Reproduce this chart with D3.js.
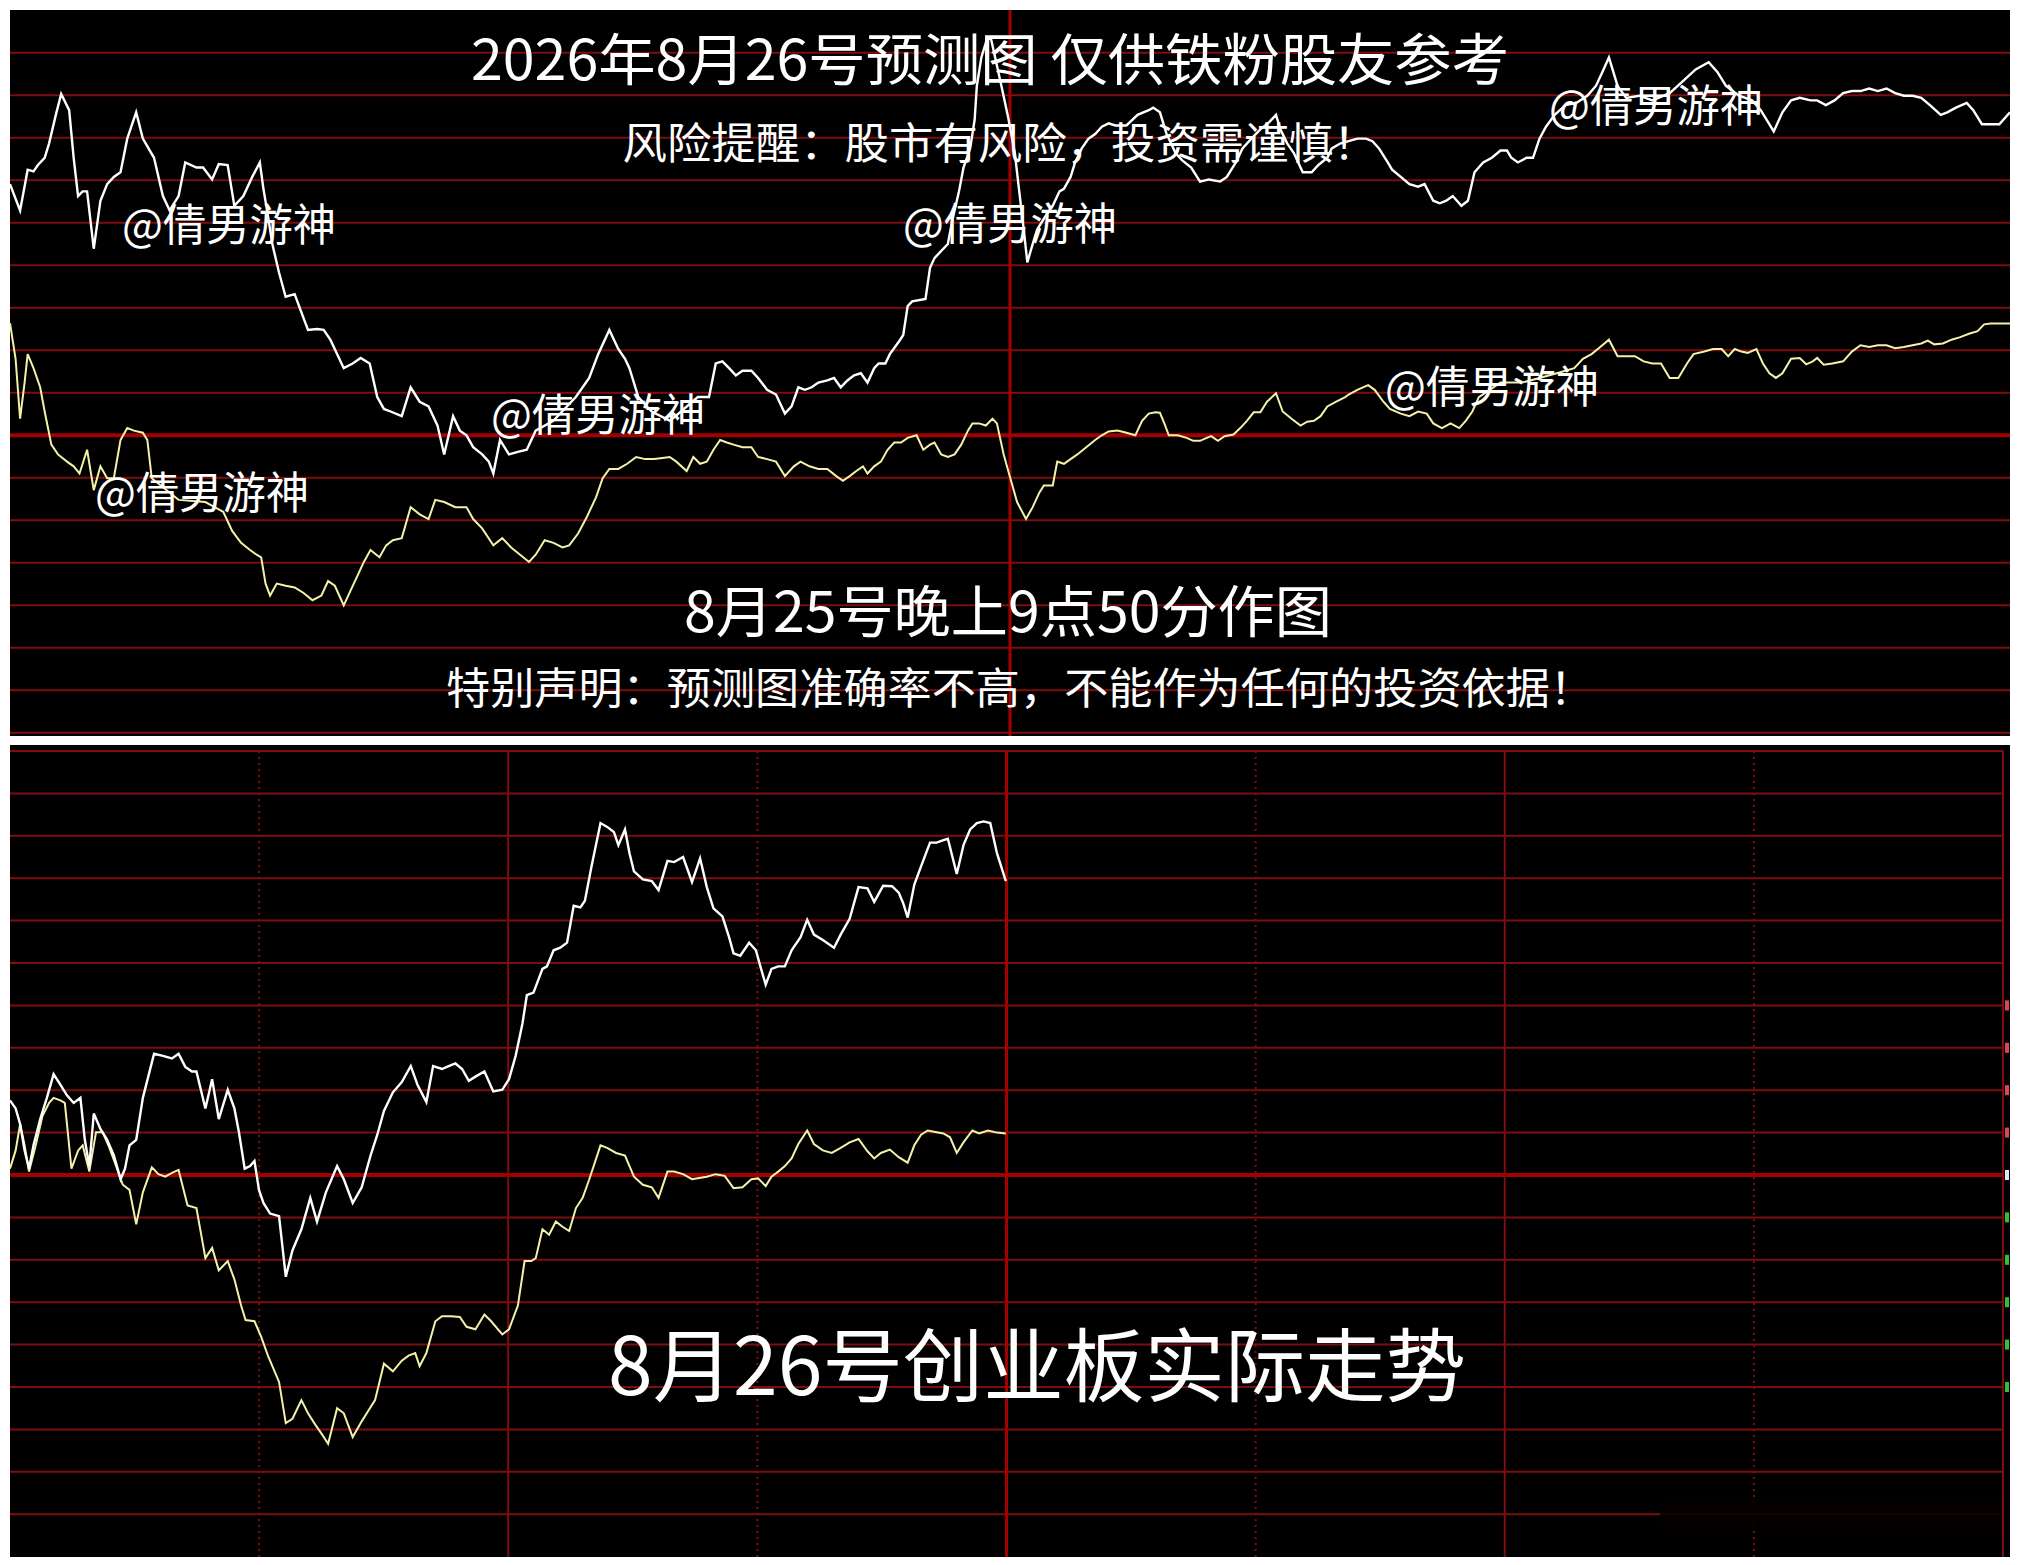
<!DOCTYPE html>
<html>
<head>
<meta charset="utf-8">
<script src="https://cdn.jsdelivr.net/npm/d3@7"></script>
<style>
html,body{margin:0;padding:0;background:#fff;}
svg{display:block;}
text{font-family:"Noto Sans CJK SC","Noto Sans",sans-serif;fill:#fff;}
</style>
</head>
<body>
<svg id="chart" width="2020" height="1565"></svg>
<script>
// ---------- DATA (minute of trading day 0..240, value in grid steps from prev close) ----------
const topIndex = [[0,5.91],[1.21,5.29],[2.12,6.25],[2.82,6.21],[3.35,6.36],[4.16,6.53],[4.69,6.87],[5.5,7.54],[6.14,8.03],[7.1,7.65],[7.64,6.53],[8.17,5.63],[8.71,5.74],[9.25,5.74],[10.05,4.39],[10.85,5.52],[11.66,5.91],[12.46,6.08],[13.26,6.19],[14.07,6.98],[15.14,7.6],[15.94,6.98],[17.28,6.53],[18.35,5.63],[19.16,5.29],[20.23,5.63],[21.03,6.42],[22.37,6.3],[23.17,6.3],[24.25,6.02],[25.05,6.38],[26.12,6.36],[26.92,5.4],[28,5.63],[29.07,6.08],[29.98,6.42],[30.41,5.8],[30.94,5.18],[31.48,4.5],[32.28,3.83],[33.08,3.26],[34.16,3.32],[34.69,3.04],[35.76,2.48],[36.83,2.5],[37.64,2.48],[38.44,2.25],[40.05,1.58],[41.12,1.69],[42.08,1.82],[43.16,1.69],[44.07,0.9],[44.87,0.62],[45.67,0.56],[47.01,0.45],[48.08,1.13],[49.16,0.79],[50.23,0.68],[51.3,0.23],[52.1,-0.45],[53.17,0.45],[53.98,0.11],[54.78,0],[55.58,-0.28],[56.66,-0.45],[57.46,-0.62],[58,-0.9],[58.8,-0.11],[59.87,-0.45],[60.94,-0.39],[62.01,-0.34],[63.08,0.11],[65.2,0.34],[67.9,0.9],[69.5,1.35],[70.58,1.91],[71.92,2.48],[72.99,2.03],[73.8,1.8],[74.33,1.58],[75.4,0.9],[77,0.56],[79.2,0.34],[82.54,0.9],[83.88,0.9],[84.69,1.69],[85.49,1.74],[86.29,1.58],[87.1,1.41],[87.9,1.52],[88.97,1.52],[89.77,1.35],[90.85,1.07],[91.92,0.96],[92.99,0.51],[93.79,0.68],[94.6,1.13],[95.4,1.07],[96.2,1.13],[97,1.24],[98.08,1.29],[98.88,1.35],[99.69,1.13],[100.49,1.29],[101.29,1.41],[102.1,1.46],[102.9,1.24],[103.7,1.58],[104.24,1.69],[105.04,1.69],[105.58,1.91],[106.65,2.2],[107.19,2.36],[107.72,3.04],[108.26,3.15],[109.86,3.21],[110.4,3.94],[110.94,4.17],[111.47,4.28],[112.54,4.5],[113.08,5.06],[113.88,5.74],[114.42,6.3],[115.22,6.75],[115.76,7.43],[116.02,8.22],[116.56,8.89],[117.2,9.3],[117.7,9.35],[118.97,8.22],[119.77,7.49],[120.58,6.64],[121.11,5.74],[121.65,4.84],[122.08,4.07],[122.72,4.5],[123.26,4.84],[124.33,5.18],[125.13,5.4],[125.94,5.74],[126.47,5.8],[127.27,6.08],[127.81,6.42],[128.61,6.75],[129.42,6.98],[130.22,7.09],[131.02,7.26],[131.83,7.34],[132.63,7.29],[133.97,7.29],[135.31,7.54],[136.65,7.65],[137.18,7.71],[137.99,7.6],[138.79,7.09],[139.33,6.87],[139.86,6.64],[140.67,6.47],[141.74,6.3],[142.81,5.97],[143.88,6.02],[145.22,5.97],[146.02,6.08],[147.1,6.42],[147.9,6.75],[148.97,6.98],[150.04,7.2],[151.11,7.37],[151.92,7.54],[152.45,7.2],[153.26,6.87],[154.06,6.64],[155.13,6.19],[156.2,6.19],[157.01,6.36],[158.08,6.53],[158.61,6.75],[159.68,6.87],[161.68,6.98],[162.72,6.98],[163.5,6.92],[164.28,6.75],[165.33,6.42],[165.85,6.25],[166.89,6.08],[167.93,5.91],[168.97,5.85],[169.75,5.91],[170.79,5.52],[171.57,5.46],[172.35,5.52],[173.13,5.63],[174.17,5.4],[174.95,5.52],[175.74,6.19],[176.78,6.42],[177.82,6.53],[178.86,6.7],[179.64,6.7],[180.16,6.53],[180.94,6.42],[181.98,6.53],[182.76,6.53],[183.54,6.98],[184.32,7.26],[185.36,7.54],[186.67,7.77],[187.97,7.82],[189.27,7.99],[190.31,8.22],[191.09,8.55],[191.87,8.89],[192.91,8.22],[193.95,7.94],[195.51,7.99],[197.08,7.88],[199.16,8.05],[200.72,8.33],[202.28,8.61],[203.84,8.78],[204.88,8.55],[205.92,8.22],[207.49,7.99],[209.05,7.88],[210.09,7.65],[211.65,7.15],[212.69,7.6],[213.73,7.88],[214.77,7.94],[216.07,7.88],[216.86,7.88],[217.9,7.77],[218.94,7.88],[219.98,8.05],[221.02,8.1],[222.06,8.1],[223.1,8.16],[224.14,8.1],[225.18,8.16],[226.22,8.05],[227.26,7.99],[228.3,7.99],[229.35,7.94],[230.39,7.77],[231.69,7.54],[232.47,7.6],[233.51,7.71],[234.81,7.82],[235.59,7.65],[236.63,7.32],[237.67,7.32],[238.72,7.32],[240,7.6]];

const topAverage = [[0,2.64],[0.67,1.8],[1.21,0.39],[1.75,1.24],[2.12,1.91],[2.82,1.58],[3.62,1.13],[4.16,0.56],[4.96,-0.22],[5.76,-0.45],[6.84,-0.62],[7.64,-0.73],[8.34,-0.9],[9.25,-0.34],[10.05,-1.29],[10.85,-0.73],[11.66,-1.01],[12.46,-1.01],[13.26,-0.11],[14.07,0.17],[14.87,0.11],[15.94,0.06],[16.48,-0.11],[17.01,-1.01],[20.23,-1.52],[23.44,-1.57],[25.59,-1.8],[26.66,-2.25],[27.73,-2.53],[28.8,-2.7],[29.6,-2.81],[30.14,-2.87],[30.67,-3.49],[31.21,-3.77],[32.01,-3.49],[33.08,-3.54],[34.16,-3.58],[35.23,-3.71],[36.3,-3.88],[37.37,-3.77],[38.17,-3.43],[38.98,-3.54],[39.51,-3.77],[40.05,-4.0],[40.85,-3.66],[41.66,-3.32],[42.46,-2.98],[43.26,-2.7],[44.33,-2.87],[45.14,-2.59],[45.94,-2.47],[47.01,-2.42],[48.08,-1.69],[49.16,-1.86],[50.23,-1.97],[51.03,-1.52],[52.1,-1.57],[53.44,-1.69],[54.78,-1.69],[55.58,-1.97],[56.66,-2.19],[58,-2.59],[59.07,-2.42],[60.14,-2.64],[61.21,-2.81],[62.28,-2.98],[63.08,-2.81],[64.16,-2.47],[65.23,-2.53],[66.3,-2.64],[67.1,-2.59],[68.17,-2.31],[69.25,-1.91],[70.32,-1.46],[71.12,-1.01],[71.92,-0.79],[72.99,-0.79],[74.06,-0.67],[75.14,-0.51],[76.21,-0.56],[77.28,-0.56],[78.08,-0.54],[79.16,-0.51],[79.96,-0.62],[81.2,-0.84],[82,-0.51],[82.81,-0.67],[83.61,-0.62],[84.42,-0.34],[85.22,-0.11],[86.02,-0.17],[86.83,-0.22],[87.9,-0.28],[88.97,-0.28],[89.77,-0.51],[90.85,-0.56],[91.92,-0.62],[92.99,-0.96],[94.06,-0.73],[94.86,-0.62],[95.94,-0.73],[97.01,-0.79],[98.08,-0.79],[99.15,-0.96],[99.95,-1.07],[100.76,-0.96],[101.56,-0.84],[102.36,-0.73],[102.9,-0.9],[103.7,-0.73],[104.51,-0.62],[105.31,-0.34],[106.11,-0.17],[106.92,-0.17],[107.72,-0.06],[108.79,0],[109.6,-0.34],[110.4,-0.22],[110.94,-0.17],[111.74,-0.45],[112.54,-0.51],[113.35,-0.45],[114.15,-0.22],[114.95,0.11],[115.49,0.28],[116.29,0.28],[117.1,0.23],[117.9,0.39],[118.43,0.28],[119.24,-0.45],[120.04,-1.01],[120.85,-1.57],[121.92,-1.97],[122.72,-1.69],[123.52,-1.35],[124.06,-1.18],[125.13,-1.18],[125.67,-0.62],[126.47,-0.67],[127.27,-0.56],[128.08,-0.45],[129.15,-0.28],[130.22,-0.11],[131.02,0],[131.83,0.09],[132.9,0.11],[133.97,0.06],[135.04,0],[135.85,0.34],[136.65,0.51],[137.45,0.54],[137.99,0.53],[138.52,0.28],[139.06,0],[140.13,0],[141.2,-0.06],[142,-0.13],[142.81,-0.13],[143.61,-0.06],[144.14,-0.02],[144.95,-0.13],[145.75,-0.02],[146.82,0.02],[147.63,0.17],[148.43,0.34],[149.24,0.54],[150.04,0.54],[150.84,0.79],[151.92,0.99],[152.72,0.56],[153.79,0.39],[154.86,0.23],[155.67,0.32],[156.47,0.34],[157.27,0.45],[158.08,0.68],[159.15,0.79],[160.22,0.9],[160.64,0.96],[161.68,1.07],[162.98,1.18],[163.76,1.07],[164.81,0.79],[165.59,0.62],[166.89,0.51],[167.93,0.45],[168.97,0.56],[170.01,0.51],[170.79,0.28],[171.83,0.17],[172.87,0.28],[173.91,0.17],[174.69,0.34],[175.48,0.56],[176.26,0.9],[178.86,1.24],[181.46,1.24],[183.54,1.35],[185.62,1.46],[187.71,1.58],[188.75,1.8],[189.79,1.91],[190.83,2.08],[191.87,2.25],[192.91,1.86],[193.95,1.86],[194.99,1.86],[196.04,1.74],[197.08,1.69],[198.12,1.69],[199.16,1.35],[200.2,1.35],[201.24,1.69],[202.02,1.91],[203.32,1.97],[204.36,2.03],[205.4,2.03],[206.18,1.86],[206.97,2.03],[207.75,1.97],[208.53,1.94],[209.57,2.03],[210.35,1.69],[211.13,1.46],[211.91,1.35],[212.69,1.46],[213.73,1.8],[214.77,1.82],[215.55,1.67],[216.33,1.74],[216.86,1.82],[217.64,1.66],[218.68,1.69],[219.98,1.74],[221.02,1.97],[222.06,2.12],[223.1,2.08],[224.14,2.12],[225.18,2.12],[226.22,2.05],[227.26,2.08],[228.3,2.12],[229.35,2.16],[230.13,2.23],[230.91,2.14],[231.95,2.16],[232.99,2.25],[234.03,2.31],[235.07,2.39],[236.11,2.45],[236.89,2.61],[237.67,2.63],[238.72,2.63],[240,2.63]];

const actualIndex = [[0,1.76],[0.68,1.57],[1.22,1.2],[1.76,0.58],[2.29,0.15],[2.83,0.7],[3.64,1.32],[4.44,1.82],[5.25,2.38],[6.06,2.13],[6.86,1.88],[7.67,1.7],[8.48,1.82],[9.01,0.83],[9.55,0.21],[10.09,1.45],[10.9,1.08],[11.7,0.83],[12.51,0.46],[13.32,-0.1],[13.85,0.15],[14.39,0.7],[15.2,0.83],[16,1.82],[17.35,2.86],[18.42,2.81],[19.5,2.75],[20.3,2.86],[21.11,2.55],[21.92,2.44],[22.45,2.44],[23.53,1.57],[24.34,2.26],[25.14,1.32],[26.22,2.01],[27.02,1.57],[27.56,1.02],[28.26,0.15],[28.91,0.21],[29.44,0.33],[29.98,-0.35],[30.52,-0.66],[31.32,-0.91],[32.4,-0.97],[33.21,-2.4],[34.01,-1.78],[35.09,-1.28],[36.16,-0.54],[36.97,-1.1],[38.04,-0.41],[39.39,0.21],[40.2,-0.1],[41.27,-0.66],[42.35,-0.29],[43.42,0.46],[44.23,0.95],[45.03,1.51],[46.11,1.95],[47.18,2.19],[48.26,2.57],[49.07,2.13],[50.14,1.72],[50.95,2.57],[52.02,2.5],[52.83,2.57],[53.64,2.63],[54.44,2.5],[55.25,2.22],[56.05,2.32],[57.13,2.44],[58.2,1.97],[59.28,2.01],[60.09,2.26],[60.89,2.81],[61.7,3.56],[62.24,4.24],[63.04,4.3],[64.12,4.86],[64.66,4.92],[65.46,5.3],[66.27,5.36],[67.08,5.48],[67.88,6.35],[68.69,6.31],[69.23,6.47],[70.03,7.28],[71.11,8.3],[71.91,8.21],[72.72,8.09],[73.26,7.78],[74.06,8.15],[74.6,7.59],[75.14,7.16],[76.21,6.97],[77.29,6.93],[78.1,6.72],[79.17,7.41],[79.98,7.38],[81.05,7.5],[82.13,6.91],[83.1,7.47],[83.91,6.79],[84.71,6.29],[85.79,6.1],[86.59,5.61],[87.13,5.23],[87.94,5.17],[89.01,5.48],[89.82,5.3],[90.36,4.92],[91,4.49],[91.7,4.86],[92.51,4.92],[93.31,4.92],[94.12,5.3],[95.2,5.61],[96,6.02],[96.81,5.67],[97.88,5.54],[99.23,5.36],[100.03,5.67],[101.11,6.04],[102.18,6.79],[103.26,6.76],[104.07,6.44],[105.14,6.82],[106.22,6.81],[107.02,6.66],[107.56,6.41],[108.1,6.07],[108.9,6.85],[109.71,7.28],[110.79,7.84],[111.59,7.84],[112.4,7.9],[112.94,7.93],[114.01,7.1],[114.82,7.78],[115.62,8.15],[116.43,8.3],[117.24,8.34],[118.04,8.3],[118.85,7.59],[119.92,6.93]];

const actualAverage = [[0,0.15],[0.68,0.58],[1.22,1.2],[1.76,0.7],[2.29,0.08],[3.1,0.7],[3.91,1.39],[4.71,1.7],[5.25,1.82],[6.06,1.76],[6.6,1.7],[7.4,0.15],[8.21,0.58],[8.75,0.7],[9.55,0.08],[10.36,1.01],[11.16,1.01],[11.97,0.64],[12.78,0.21],[13.58,-0.23],[14.39,-0.35],[15.2,-1.16],[16,-0.41],[17.08,0.18],[17.88,0.02],[18.69,-0.04],[19.5,0.05],[20.3,0.12],[21.38,-0.72],[22.45,-0.78],[23.53,-1.96],[24.34,-1.72],[25.14,-2.25],[26.22,-2.03],[27.02,-2.46],[27.83,-3.08],[28.37,-3.42],[29.44,-3.45],[30.25,-3.82],[31.06,-4.26],[31.86,-4.63],[32.4,-4.88],[33.21,-5.85],[34.01,-5.75],[35.09,-5.31],[35.89,-5.62],[36.7,-5.87],[37.51,-6.1],[38.31,-6.34],[39.39,-5.5],[40.2,-5.62],[41.27,-6.18],[42.35,-5.81],[43.15,-5.56],[43.96,-5.31],[45.03,-4.45],[46.11,-4.63],[47.18,-4.38],[47.99,-4.26],[48.8,-4.2],[49.33,-4.51],[50.14,-4.2],[51.22,-3.45],[52.02,-3.33],[53.1,-3.33],[54.17,-3.35],[54.98,-3.58],[56.05,-3.64],[57.13,-3.29],[57.94,-3.45],[59.28,-3.76],[60.09,-3.64],[61.16,-3.08],[61.97,-2.03],[62.77,-2.03],[63.31,-1.96],[64.12,-1.28],[64.92,-1.41],[65.73,-1.1],[66.54,-1.22],[67.34,-1.32],[68.15,-0.78],[68.96,-0.54],[69.76,-0.1],[71.11,0.7],[71.91,0.64],[72.99,0.52],[74.06,0.46],[75.14,-0.04],[76.21,-0.23],[77.29,-0.29],[78.1,-0.54],[79.17,0.08],[79.98,0.08],[81.05,0.02],[82.13,-0.1],[83.91,-0.04],[84.98,0.02],[86.06,-0.02],[87.13,-0.31],[88.21,-0.29],[89.28,-0.1],[90.09,-0.08],[91,-0.26],[91.7,-0.04],[92.51,0.08],[93.31,0.21],[94.12,0.39],[94.93,0.73],[96,1.05],[96.81,0.73],[97.88,0.58],[98.96,0.52],[100.03,0.64],[101.11,0.77],[102.18,0.85],[103.26,0.56],[104.07,0.39],[104.87,0.52],[105.95,0.6],[107.02,0.42],[108.1,0.29],[108.9,0.7],[109.71,0.95],[110.52,1.05],[111.59,1.01],[112.4,0.98],[113.2,0.89],[114.01,0.52],[114.82,0.77],[115.89,1.05],[116.7,0.98],[117.77,1.05],[118.85,1.0],[119.92,0.98]];

// grid levels and time marks
const topLevels = d3.range(-7, 10);            // horizontal lines in forecast panel
const bottomLevels = d3.range(-8, 11);         // horizontal lines in actual panel
const solidMinutes = [60, 180];
const dottedMinutes = [30, 90, 150, 210];
const upTicks = [1, 2, 3, 4];
const downTicks = [-1, -2, -3, -4, -5];

// texts
const titleText = "2026年8月26号预测图 仅供铁粉股友参考";
const riskText = "风险提醒：股市有风险，投资需谨慎！";
const madeText = "8月25号晚上9点50分作图";
const noteText = "特别声明：预测图准确率不高，不能作为任何的投资依据！";
const actualText = "8月26号创业板实际走势";
const markText = "@倩男游神";
const markSpots = [[229, 222], [1010, 221], [1656, 103], [598, 412], [202, 490], [1492, 384]];

// ---------- DRAW ----------
const svg = d3.select("#chart");
const GRID = "#7e0e0e", AXIS = "#a30000";

// forecast panel
const xTop = d3.scaleLinear().domain([0, 240]).range([10, 2010]);
const yTop = d3.scaleLinear().domain([-7, 10]).range([732.8, 10.3]);
svg.append("rect").attr("x", 10).attr("y", 10).attr("width", 2000).attr("height", 726).attr("fill", "#000");
const gT = svg.append("g");
gT.selectAll("line.h").data(topLevels).join("line")
  .attr("x1", 10).attr("x2", 2010)
  .attr("y1", d => yTop(d)).attr("y2", d => yTop(d))
  .attr("stroke", d => d === 0 ? AXIS : GRID)
  .attr("stroke-width", d => d === 0 ? 4 : 2);
gT.append("line").attr("x1", xTop(120)).attr("x2", xTop(120)).attr("y1", 10).attr("y2", 736)
  .attr("stroke", AXIS).attr("stroke-width", 3);

const lineTop = d3.line().x(d => xTop(d[0])).y(d => yTop(d[1]));
gT.append("path").datum(topAverage).attr("d", lineTop).attr("fill", "none")
  .attr("stroke", "#f4f1a8").attr("stroke-width", 2);
gT.append("path").datum(topIndex).attr("d", lineTop).attr("fill", "none")
  .attr("stroke", "#ffffff").attr("stroke-width", 2.4);

// actual panel
const xBot = d3.scaleLinear().domain([0, 240]).range([10, 2003]);
const yBot = d3.scaleLinear().domain([-9, 10]).range([1556.6, 751]);
svg.append("rect").attr("x", 10).attr("y", 745).attr("width", 2000).attr("height", 812).attr("fill", "#000");
const gB = svg.append("g");
gB.selectAll("line.h").data(bottomLevels).join("line")
  .attr("x1", 10).attr("x2", 2003)
  .attr("y1", d => yBot(d)).attr("y2", d => yBot(d))
  .attr("stroke", d => d === 0 ? AXIS : GRID)
  .attr("stroke-width", d => d === 0 ? 4 : 2);
gB.selectAll("line.d").data(dottedMinutes).join("line")
  .attr("x1", d => xBot(d)).attr("x2", d => xBot(d)).attr("y1", 751).attr("y2", 1557)
  .attr("stroke", GRID).attr("stroke-width", 2).attr("stroke-dasharray", "2,4");
gB.selectAll("line.s").data(solidMinutes).join("line")
  .attr("x1", d => xBot(d)).attr("x2", d => xBot(d)).attr("y1", 751).attr("y2", 1557)
  .attr("stroke", GRID).attr("stroke-width", 2);
gB.append("line").attr("x1", xBot(120)).attr("x2", xBot(120)).attr("y1", 751).attr("y2", 1557)
  .attr("stroke", AXIS).attr("stroke-width", 3);
gB.append("line").attr("x1", xBot(240)).attr("x2", xBot(240)).attr("y1", 751).attr("y2", 1557)
  .attr("stroke", GRID).attr("stroke-width", 2);
// faded smear near the lower right
gB.append("rect").attr("x", 1660).attr("y", 1500).attr("width", 342).attr("height", 30)
  .attr("fill", "#060000").attr("opacity", 0.85);
// price-axis ticks
gB.selectAll("rect.up").data(upTicks).join("rect")
  .attr("x", 2005).attr("y", d => yBot(d) - 5).attr("width", 4).attr("height", 10).attr("fill", "#d9485a");
gB.selectAll("rect.dn").data(downTicks).join("rect")
  .attr("x", 2005).attr("y", d => yBot(d) - 5).attr("width", 4).attr("height", 10).attr("fill", "#2fbf3a");
gB.append("rect").attr("x", 2005).attr("y", yBot(0) - 5).attr("width", 4).attr("height", 10).attr("fill", "#dde8ff");

const lineBot = d3.line().x(d => xBot(d[0])).y(d => yBot(d[1]));
gB.append("path").datum(actualAverage).attr("d", lineBot).attr("fill", "none")
  .attr("stroke", "#f4f1a8").attr("stroke-width", 2);
gB.append("path").datum(actualIndex).attr("d", lineBot).attr("fill", "none")
  .attr("stroke", "#ffffff").attr("stroke-width", 2.4);

// texts
function label(txt, cx, cy, size, len) {
  svg.append("text").text(txt).attr("x", cx).attr("y", cy)
    .attr("text-anchor", "middle").attr("dominant-baseline", "central")
    .attr("font-size", size)
    .attr("textLength", len).attr("lengthAdjust", "spacingAndGlyphs");
}
markSpots.forEach(p => label(markText, p[0], p[1], 44, 214));
label(titleText, 990, 55, 56, 1038);
label(riskText, 1000, 140, 43, 755);
label(madeText, 1008, 607, 56, 648);
label(noteText, 1020, 685, 43, 1148);
label(actualText, 1037, 1360, 80, 858);
</script>
</body>
</html>
